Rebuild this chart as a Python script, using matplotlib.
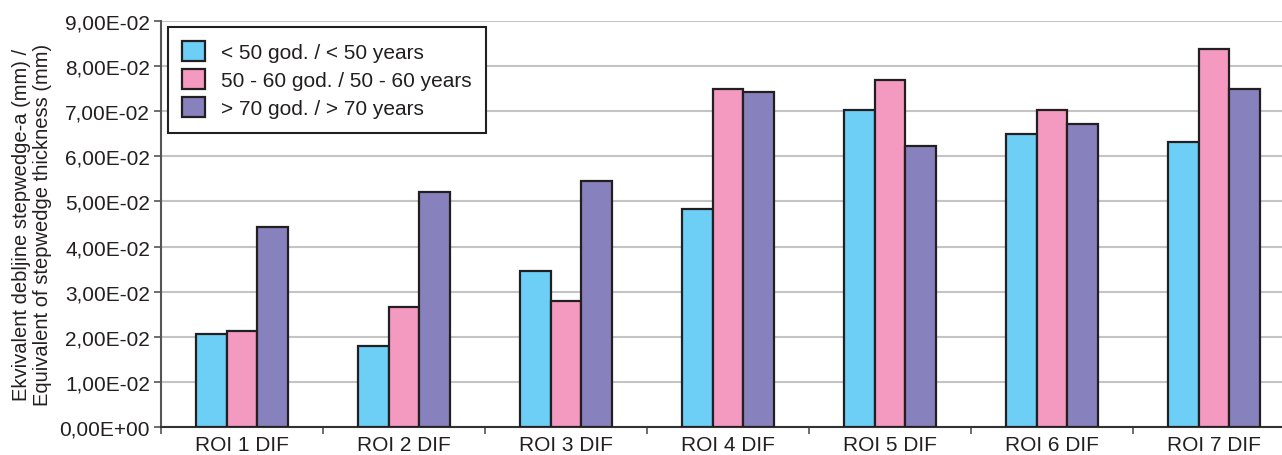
import numpy as np
import matplotlib
matplotlib.use("Agg")
import matplotlib.pyplot as plt
from matplotlib.ticker import FuncFormatter, MultipleLocator

plt.rcParams['font.family'] = ['Liberation Sans', 'DejaVu Sans']

# Datos
categorias = ["ROI 1 DIF", "ROI 2 DIF", "ROI 3 DIF", "ROI 4 DIF", "ROI 5 DIF", "ROI 6 DIF", "ROI 7 DIF"]
menos_50 = [0.0206, 0.0180, 0.0345, 0.0483, 0.0703, 0.0650, 0.0631]
entre_50_60 = [0.0212, 0.0265, 0.0280, 0.0749, 0.0770, 0.0703, 0.0838]
mas_70 = [0.0443, 0.0520, 0.0546, 0.0742, 0.0622, 0.0672, 0.0749]
etiquetas = ["< 50 god. / < 50 years", "50 - 60 god. / 50 - 60 years", "> 70 god. / > 70 years"]

colores = ["#6DCFF6", "#F49AC1", "#8781BD"]
texto = "#231F20"

fig = plt.figure(figsize=(12.82, 4.56), dpi=100)
ax = fig.add_axes([161 / 1282, 28 / 456, (1295 - 161) / 1282, 406 / 456])

x = np.arange(len(categorias))
w = 0.1877
for i, (serie, color, lab) in enumerate(zip([menos_50, entre_50_60, mas_70], colores, etiquetas)):
    ax.bar(x + (i - 1) * w, serie, width=w, color=color, edgecolor=texto,
           linewidth=1.6, label=lab, zorder=3)

ax.set_xlim(-0.5, len(categorias) - 0.5)
ax.set_ylim(0, 0.09)
ax.yaxis.set_major_locator(MultipleLocator(0.01))
ax.yaxis.set_major_formatter(FuncFormatter(lambda v, p: ("%.2E" % v).replace(".", ",")))
ax.grid(axis='y', color='#C4C4C4', linewidth=1.5, zorder=0)

ax.set_xticks(x)
ax.set_xticklabels(categorias)
ax.set_xticks(np.arange(-0.5, len(categorias), 1), minor=True)
ax.tick_params(axis='x', which='major', length=0, pad=6, labelsize=15, labelcolor=texto)
ax.tick_params(axis='x', which='minor', length=5, width=1.2, color='#555555')
ax.tick_params(axis='y', length=5, width=1.2, color='#555555', pad=3,
               labelsize=15, labelcolor=texto)

for s in ['top', 'right']:
    ax.spines[s].set_visible(False)
ax.spines['left'].set_color('#555555')
ax.spines['left'].set_linewidth(1.5)
ax.spines['bottom'].set_color('#333333')
ax.spines['bottom'].set_linewidth(1.5)

ax.set_ylabel("Ekvivalent debljine stepwedge-a (mm) /\nEquivalent of stepwedge thickness (mm)",
              fontsize=14.5, color=texto, linespacing=1.15, labelpad=5)

leg = ax.legend(loc='upper left', bbox_to_anchor=(0.006, 0.986), borderaxespad=0,
                fancybox=False, fontsize=15, handlelength=1.1, handleheight=1.05,
                handletextpad=0.75, borderpad=0.7, labelspacing=0.35, framealpha=1)
leg.get_frame().set_edgecolor(texto)
leg.get_frame().set_linewidth(1.5)
for t in leg.get_texts():
    t.set_color(texto)

fig.savefig("out.png", dpi=100)
